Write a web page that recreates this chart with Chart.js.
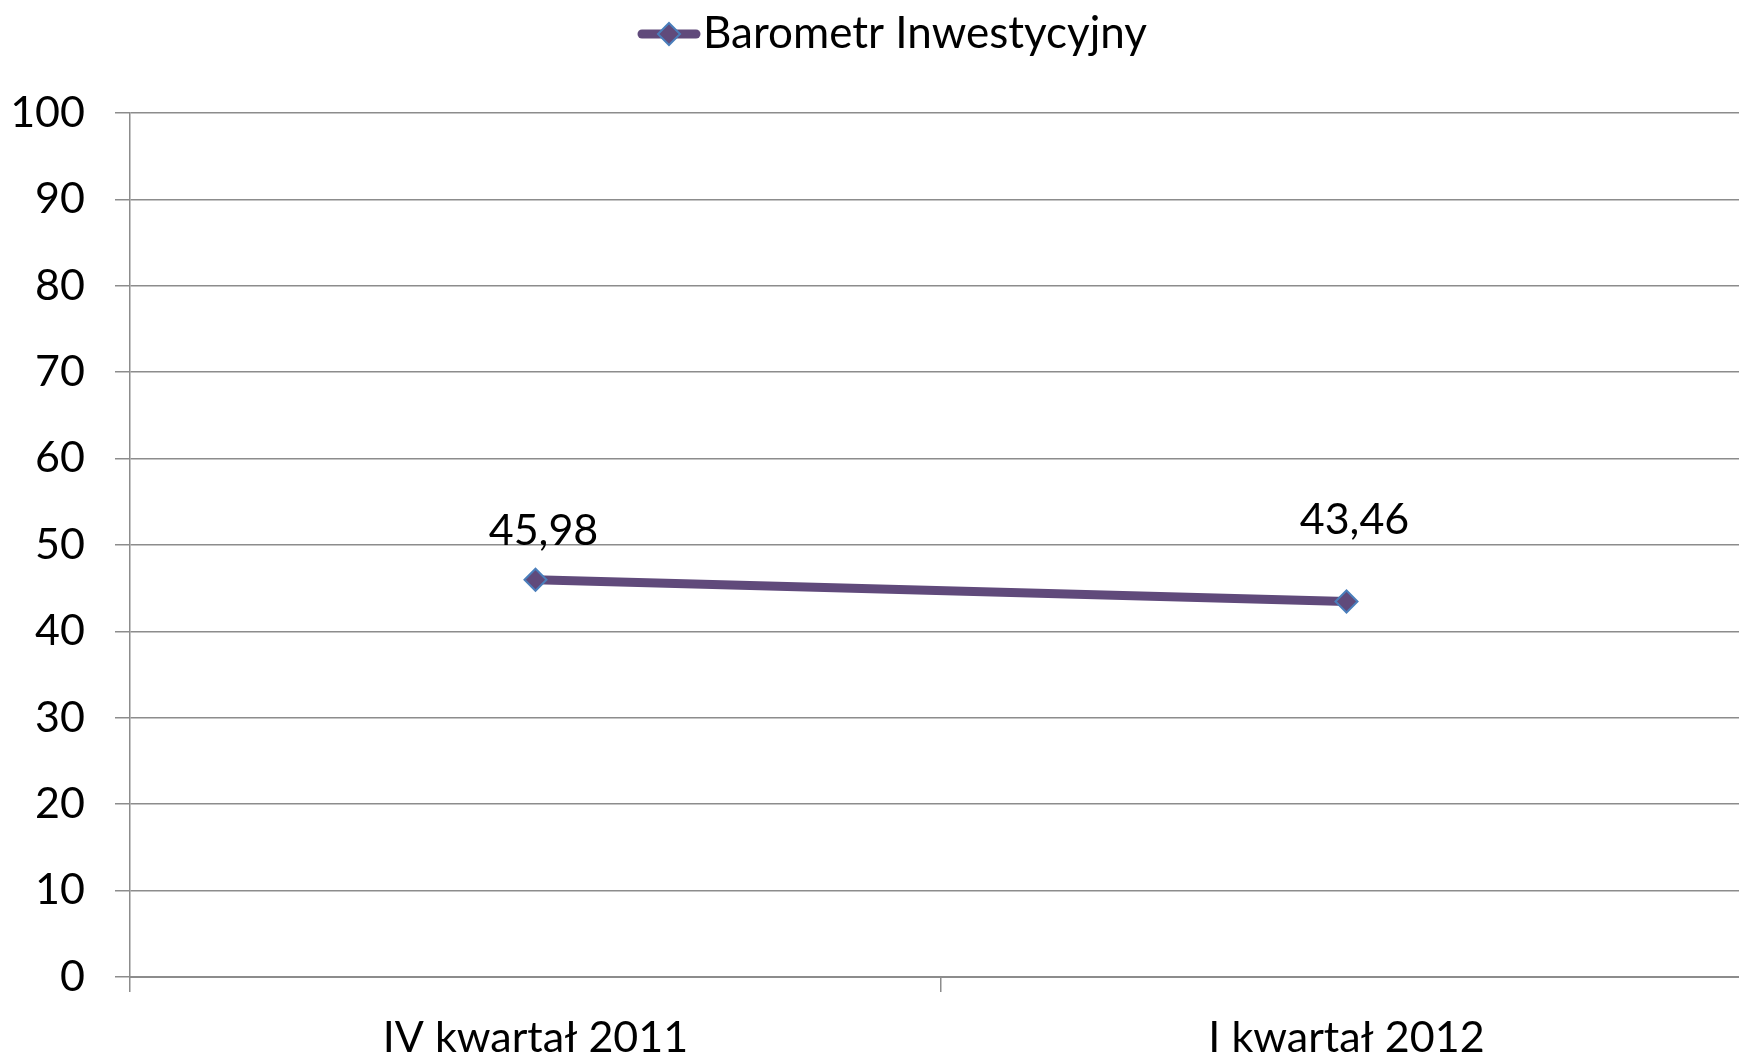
<!DOCTYPE html>
<html>
<head>
<meta charset="utf-8">
<script src="https://cdn.jsdelivr.net/npm/chart.js@4.4.0/dist/chart.umd.min.js"></script>
<style>
  html, body { margin: 0; padding: 0; background: #fff; overflow: hidden; }
  canvas { display: block; }
</style>
</head>
<body>
<canvas id="chart" width="1780" height="1058"></canvas>
<script>
const categories = ['IV kwartał 2011', 'I kwartał 2012'];
const seriesName = 'Barometr Inwestycyjny';
const barometr = [45.98, 43.46];
const yTicks = [0, 10, 20, 30, 40, 50, 60, 70, 80, 90, 100];

const lineColor = '#604a7b';
const markerBorder = '#4a7ebb';
const fontFamily = 'Lato, "Open Sans", sans-serif';

// legend symbol: short thick line with a diamond in the middle
function legendSymbol() {
  const c = document.createElement('canvas');
  c.width = 64; c.height = 28;
  const g = c.getContext('2d');
  g.strokeStyle = lineColor;
  g.lineWidth = 9;
  g.lineCap = 'round';
  g.beginPath(); g.moveTo(5, 14); g.lineTo(59, 14); g.stroke();
  g.fillStyle = lineColor;
  g.strokeStyle = markerBorder;
  g.lineWidth = 2;
  g.beginPath();
  g.moveTo(32, 3); g.lineTo(43, 14); g.lineTo(32, 25); g.lineTo(21, 14); g.closePath();
  g.fill(); g.stroke();
  return c;
}

// value labels above the points (the second one sits a bit higher in the original)
const labelLift = [35, 68];
const valueLabels = {
  id: 'valueLabels',
  afterDatasetsDraw(chart) {
    const ctx = chart.ctx;
    const meta = chart.getDatasetMeta(0);
    ctx.save();
    ctx.font = '43px ' + fontFamily;
    ctx.fillStyle = '#000';
    ctx.textAlign = 'center';
    ctx.textBaseline = 'alphabetic';
    meta.data.forEach((pt, i) => {
      const txt = barometr[i].toFixed(2).replace('.', ',');
      ctx.fillText(txt, pt.x + 8, pt.y - labelLift[i]);
    });
    ctx.restore();
  }
};

// legend box: fixed height so the plot starts where the original does,
// and nudged right like the original
const legendBox = {
  id: 'legendBox',
  beforeInit(chart) {
    const fit = chart.legend.fit;
    chart.legend.fit = function () {
      fit.call(this);
      this.height = 113;
    };
  },
  afterLayout(chart) {
    chart.legend.left += 26;
    chart.legend.right += 26;
  }
};

const symbol = legendSymbol();

new Chart(document.getElementById('chart'), {
  type: 'line',
  data: {
    labels: categories,
    datasets: [{
      label: seriesName,
      data: barometr,
      borderColor: lineColor,
      borderWidth: 9,
      backgroundColor: lineColor,
      pointStyle: 'rectRot',
      pointRadius: 11,
      pointBorderColor: markerBorder,
      pointBorderWidth: 2,
      pointBackgroundColor: lineColor,
      tension: 0
    }]
  },
  options: {
    responsive: false,
    animation: false,
    layout: { padding: { left: 0, right: 28, top: 0, bottom: 0 } },
    plugins: {
      tooltip: { enabled: false },
      legend: {
        position: 'top',
        labels: {
          usePointStyle: true,
          pointStyleWidth: 24,
          font: { family: fontFamily, size: 44 },
          color: '#000',
          padding: 12,
          generateLabels: chart => [{
            text: seriesName,
            pointStyle: symbol,
            fillStyle: lineColor,
            strokeStyle: lineColor,
            lineWidth: 0,
            datasetIndex: 0
          }]
        }
      }
    },
    scales: {
      x: {
        offset: true,
        grid: {
          offset: true,
          drawOnChartArea: false,
          drawTicks: true,
          tickLength: 15,
          color: '#8c8c8c',
          lineWidth: 1.5
        },
        border: { color: '#8c8c8c', width: 2 },
        ticks: {
          font: { family: fontFamily, size: 43 },
          color: '#000',
          padding: 20
        },
        afterFit: s => { s.height = 81; }
      },
      y: {
        min: 0,
        max: 100,
        afterBuildTicks: s => { s.ticks = yTicks.map(v => ({ value: v })); },
        grid: {
          color: '#8c8c8c',
          lineWidth: 1.5,
          tickLength: 15
        },
        border: { color: '#8c8c8c', width: 1.5 },
        ticks: {
          font: { family: fontFamily, size: 43 },
          color: '#000',
          padding: 30
        },
        afterFit: s => { s.width = 130; }
      }
    }
  },
  plugins: [valueLabels, legendBox]
});
</script>
</body>
</html>
